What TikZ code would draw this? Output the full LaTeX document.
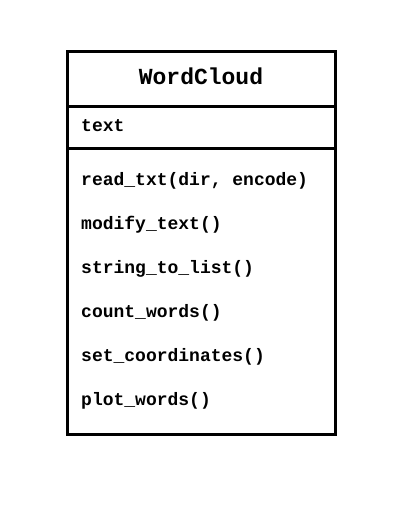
\documentclass[tikz,border=0pt]{standalone}
\usepackage{fontspec}
\setmonofont{Liberation Mono}
\begin{document}
\begin{tikzpicture}[x=1pt,y=-1pt,
  member/.style={anchor=base west,inner sep=0pt,font=\ttfamily\bfseries\fontsize{18}{20}\selectfont},
  titletext/.style={anchor=base,inner sep=0pt,font=\ttfamily\bfseries\fontsize{23}{26}\selectfont},
  frame/.style={line width=3pt,draw=black}]
\useasboundingbox (0,0) rectangle (409,516);
\coordinate (tl) at (67.5,51.5);
\coordinate (br) at (335,434.5);
\draw[frame] (tl) rectangle (br);
\coordinate (d1l) at (67.5,106.5);
\coordinate (d1r) at (335,106.5);
\coordinate (d2l) at (67.5,148.5);
\coordinate (d2r) at (335,148.5);
\draw[frame] (d1l) -- (d1r);
\draw[frame] (d2l) -- (d2r);
\node[titletext] (title) at (201,85) {WordCloud};
\node[member] (attr) at (81,131.7) {text};
\node[member] (m1) at (81,185) {read\_txt(dir, encode)};
\node[member] (m2) at (81,229) {modify\_text()};
\node[member] (m3) at (81,273) {string\_to\_list()};
\node[member] (m4) at (81,317) {count\_words()};
\node[member] (m5) at (81,361) {set\_coordinates()};
\node[member] (m6) at (81,405) {plot\_words()};
\end{tikzpicture}
\end{document}
